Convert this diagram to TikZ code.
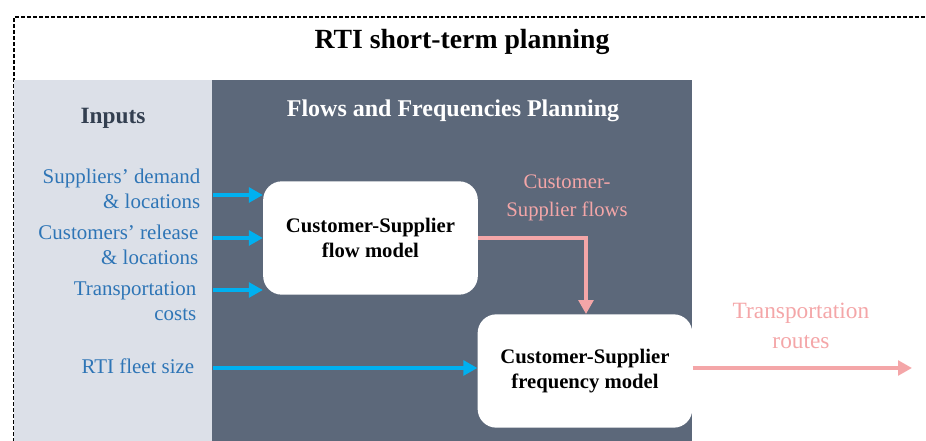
\documentclass[tikz,border=0pt]{standalone}
\usepackage{fontspec}
\setmainfont{Liberation Serif}
\usetikzlibrary{arrows.meta}
\definecolor{inblue}{RGB}{46,117,182}
\definecolor{arrblue}{RGB}{0,176,240}
\definecolor{flowpink}{RGB}{244,166,168}
\definecolor{lightpanel}{RGB}{220,224,232}
\definecolor{darkpanel}{RGB}{92,104,122}
\definecolor{headgray}{RGB}{51,63,80}
\tikzset{
  model/.style={draw=none,fill=white,rounded corners=14pt,minimum width=161pt,minimum height=85pt,align=center,font=\bfseries\fontsize{15.5}{18.5}\selectfont},
  input/.style={text=inblue,align=right,anchor=east,font=\fontsize{15.7}{18.8}\selectfont},
  pinktext/.style={text=flowpink,align=center,font=\fontsize{15.5}{21}\selectfont},
  bluearrow/.style={draw=arrblue,line width=3pt,-{Triangle[length=10.5pt,width=11pt]}},
  pinkarrow/.style={draw=flowpink,line width=3pt,-{Triangle[length=10.5pt,width=11pt]}}
}
\begin{document}
\begin{tikzpicture}[x=0.75pt,y=-0.75pt]
\useasboundingbox (0,0) rectangle (926,441);
\clip (0,0) rectangle (926,441);
% frame and panels
\draw[dash pattern=on 3pt off 1.5pt,line width=1.1pt] (14,460) -- (14,17) -- (940,17);
\fill[lightpanel] (14,80) rectangle (212,445);
\fill[darkpanel] (212,80) rectangle (692,445);
\node[font=\bfseries\fontsize{20.8}{24}\selectfont] (title) at (462,42) {RTI short-term planning};
\node[text=headgray,font=\bfseries\fontsize{17.5}{20}\selectfont] (inputs) at (113,118) {Inputs};
\node[text=white,font=\bfseries\fontsize{18}{20}\selectfont] (flowshead) at (453,111) {Flows and Frequencies Planning};
% inputs
\node[input] (sup) at (205,189) {Suppliers’ demand\\ \& locations};
\node[input] (cus) at (203,245) {Customers’ release\\ \& locations};
\node[input] (cost) at (201,301) {Transportation\\ costs};
\node[input] (fleet) at (199,366) {RTI fleet size};
% models
\node[model] (flow) at (370.5,238) {Customer-Supplier\\flow model};
\node[model] (freq) at (585,371) {Customer-Supplier\\frequency model};
\coordinate (a1) at (213,195);
\coordinate (a2) at (213,238);
\coordinate (a3) at (213,290);
\coordinate (a4) at (213,368);
\draw[bluearrow] (a1) -- (a1 -| flow.west);
\draw[bluearrow] (a2) -- (a2 -| flow.west);
\draw[bluearrow] (a3) -- (a3 -| flow.west);
\draw[bluearrow] (a4) -- (a4 -| freq.west);
% outputs
\node[pinktext] (csflows) at (567,198) {Customer-\\Supplier flows};
\coordinate (turn) at (586,238);
\draw[pinkarrow] (flow.east) -- (turn) -- (turn |- freq.north);
\coordinate (routesend) at (912,368);
\draw[pinkarrow] (freq.east |- routesend) -- (routesend);
\node[pinktext,font=\fontsize{17.5}{22}\selectfont] (routes) at (801,326) {Transportation\\routes};
\end{tikzpicture}
\end{document}
